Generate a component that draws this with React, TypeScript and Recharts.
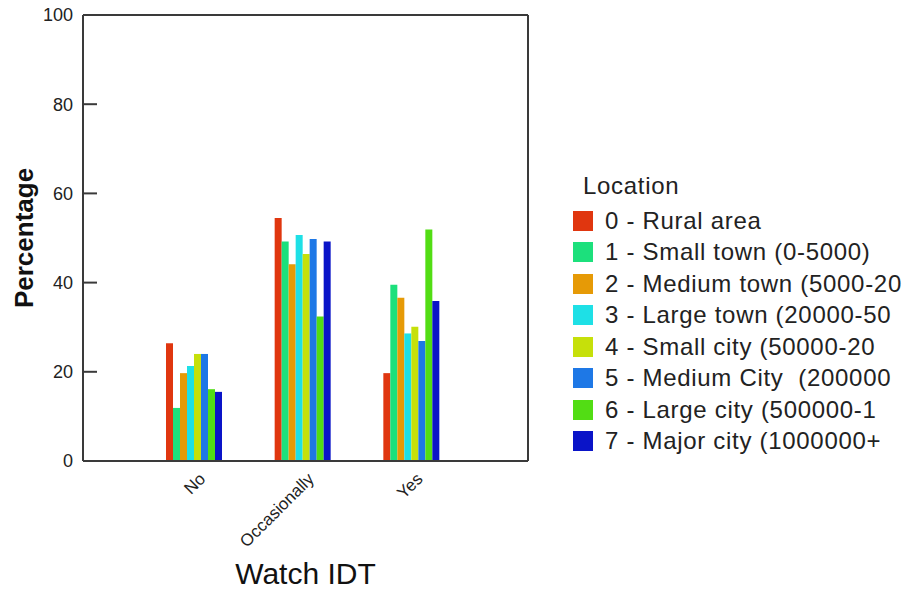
import { BarChart, Bar, XAxis, YAxis, Legend } from 'recharts';

const categories = ['No', 'Occasionally', 'Yes'];

const locations = [
  '0 - Rural area',
  '1 - Small town (0-5000)',
  '2 - Medium town (5000-20',
  '3 - Large town (20000-50',
  '4 - Small city (50000-20',
  '5 - Medium City  (200000',
  '6 - Large city (500000-1',
  '7 - Major city (1000000+',
];

const colors = ['#e0360f', '#1ce07c', '#e69a06', '#1ee0e6', '#c6e00a', '#1e78e6', '#52dd14', '#0a14c8'];

// percentages per watch category (No, Occasionally, Yes)
const ruralArea = [26.4, 54.5, 19.7];
const smallTown = [11.9, 49.2, 39.5];
const mediumTown = [19.7, 44.1, 36.6];
const largeTown = [21.3, 50.7, 28.6];
const smallCity = [24.0, 46.4, 30.1];
const mediumCity = [24.0, 49.8, 26.9];
const largeCity = [16.1, 32.4, 51.9];
const majorCity = [15.5, 49.2, 35.9];

const yTicks = [0, 20, 40, 60, 80, 100];

const series = [ruralArea, smallTown, mediumTown, largeTown, smallCity, mediumCity, largeCity, majorCity];

const data = categories.map((name, i) => {
  const row: Record<string, string | number> = { name };
  series.forEach((s, k) => {
    row['loc' + k] = s[i];
  });
  return row;
});

const font = '"Liberation Sans", Arial, sans-serif';
const axisColor = '#3a3a3a';

function XTick({ x, y, payload }: any) {
  return (
    <text
      transform={`translate(${Number(x) + 11},${Number(y) + 19}) rotate(-45)`}
      textAnchor="end"
      fontSize={17}
      fill="#222"
      fontFamily={font}
    >
      {payload.value}
    </text>
  );
}

// axis title plus the short inward tick marks along the left axis
function YLabel({ viewBox }: any) {
  const top = Number(viewBox.y);
  const h = Number(viewBox.height);
  const right = Number(viewBox.x) + Number(viewBox.width);
  const cy = top + h / 2;
  return (
    <g>
      {yTicks
        .filter((v) => v > 0 && v < 100)
        .map((v) => {
          const ty = top + h * (1 - v / 100);
          return <path key={v} d={`M${right},${ty}h14`} stroke={axisColor} strokeWidth={2} fill="none" />;
        })}
      <text
        transform={`translate(24,${cy}) rotate(-90)`}
        textAnchor="middle"
        dominantBaseline="central"
        fontSize={26}
        fontWeight="bold"
        fill="#111"
        fontFamily={font}
      >
        Percentage
      </text>
    </g>
  );
}

function LocationLegend() {
  return (
    <div style={{ fontFamily: font, fontSize: 24, color: '#222', letterSpacing: 0.7 }}>
      <div style={{ marginLeft: 10, height: 38, lineHeight: '38px' }}>Location</div>
      {locations.map((name, i) => (
        <div key={name} style={{ display: 'flex', alignItems: 'center', height: 31.5 }}>
          <span style={{ width: 20, height: 20, background: colors[i], display: 'inline-block' }} />
          <span style={{ marginLeft: 12, whiteSpace: 'pre' }}>{name}</span>
        </div>
      ))}
    </div>
  );
}

export default function App() {
  return (
    <div style={{ width: 907, height: 592, background: '#fff' }}>
      <style>{'body{margin:0}'}</style>
      <BarChart
        width={907}
        height={592}
        data={data}
        margin={{ top: 14, right: 378, bottom: 0, left: 0 }}
        barCategoryGap={25}
        barGap={0}
      >
        <XAxis
          dataKey="name"
          height={131}
          padding={{ left: 58, right: 61 }}
          tickLine={false}
          tickSize={0}
          tickMargin={0}
          interval={0}
          tick={<XTick />}
          axisLine={{ stroke: axisColor, strokeWidth: 2 }}
          label={{
            value: 'Watch IDT',
            position: 'insideBottom',
            offset: 8,
            fontSize: 30,
            fill: '#111',
            fontFamily: font,
          }}
        />
        <XAxis
          xAxisId="top"
          dataKey="name"
          orientation="top"
          height={1}
          tick={false}
          tickLine={false}
          axisLine={{ stroke: axisColor, strokeWidth: 2 }}
        />
        <YAxis
          width={83}
          domain={[0, 100]}
          ticks={yTicks}
          tickSize={0}
          tickMargin={10}
          tickLine={false}
          tick={{ fontSize: 18, fill: '#222', fontFamily: font }}
          axisLine={{ stroke: axisColor, strokeWidth: 2 }}
          label={<YLabel />}
        />
        <YAxis
          yAxisId="right"
          orientation="right"
          width={1}
          domain={[0, 100]}
          tick={false}
          tickLine={false}
          axisLine={{ stroke: axisColor, strokeWidth: 2 }}
        />
        <Legend
          layout="vertical"
          align="center"
          verticalAlign="middle"
          wrapperStyle={{ left: 573, top: 167, width: 330 }}
          content={<LocationLegend />}
        />
        {locations.map((name, k) => (
          <Bar key={name} dataKey={'loc' + k} name={name} fill={colors[k]} isAnimationActive={false} />
        ))}
      </BarChart>
    </div>
  );
}
